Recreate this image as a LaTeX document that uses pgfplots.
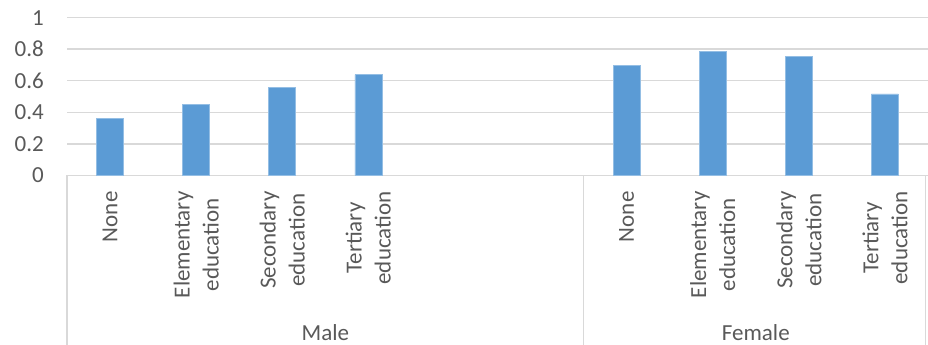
\documentclass[border=0pt]{standalone}
\usepackage{fontspec}
\setmainfont{Carlito}
\usepackage{pgfplots}
\pgfplotsset{compat=1.18}
\definecolor{barblue}{HTML}{5B9BD5}
\definecolor{gridgray}{HTML}{D9D9D9}
\definecolor{textgray}{HTML}{595959}
\newcommand{\lbl}{\fontsize{23bp}{29bp}\selectfont}

\begin{document}
\begin{tikzpicture}
\path[use as bounding box] (0,0) rectangle (928bp,345bp);
\begin{axis}[
  at={(67bp,169.7bp)}, anchor=south west,
  scale only axis, width=861bp, height=157.6bp,
  xmin=-0.5, xmax=9.5, ymin=0, ymax=1,
  axis line style={draw=none},
  major tick length=0pt,
  tick align=outside,
  xtick pos=bottom, ytick pos=left,
  ytick={0,0.2,0.4,0.6,0.8,1},
  ymajorgrids,
  major grid style={draw=gridgray, line width=1.5bp},
  /pgf/number format/assume math mode=true,
  tick label style={font=\lbl, text=textgray},
  yticklabel style={anchor=east, inner sep=0pt},
  yticklabel shift=23bp,
  xtick={0,1,2,3,6,7,8,9},
  xticklabels={None,{Elementary\\education},{Secondary\\education},{Tertiary\\education},
               None,{Elementary\\education},{Secondary\\education},{Tertiary\\education}},
  xticklabel style={rotate=90, anchor=east, align=center, inner sep=0pt},
  xticklabel shift=16bp,
  extra x ticks={-0.5,5.5,9.47},
  extra x tick labels={},
  extra x tick style={major tick length=175bp,
    tick style={draw=gridgray, line width=1.5bp}},
  clip=false,
]
\addplot[ybar, bar width=27bp, fill=barblue, draw=barblue!65!white, line width=0.6bp]
  coordinates {(0,0.362) (1,0.451) (2,0.559) (3,0.639)
               (6,0.696) (7,0.785) (8,0.753) (9,0.516)};
\node[font=\lbl, text=textgray, anchor=base] at ([yshift=-165.5bp]axis cs:2.5,0) {Male};
\node[font=\lbl, text=textgray, anchor=base] at ([yshift=-165.5bp]axis cs:7.5,0) {Female};
\end{axis}
\end{tikzpicture}
\end{document}
